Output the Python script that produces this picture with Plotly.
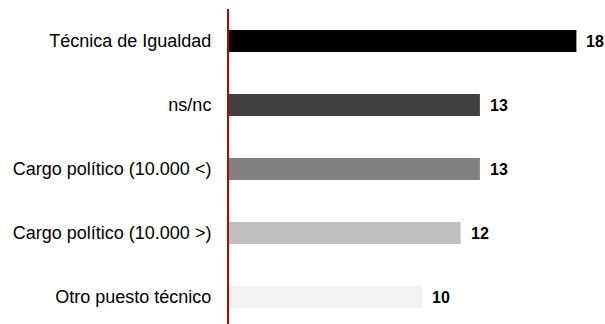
import plotly.graph_objects as go

categories = ["Técnica de Igualdad", "ns/nc", "Cargo político (10.000 <)",
              "Cargo político (10.000 >)", "Otro puesto técnico"]
values = [18, 13, 13, 12, 10]
colors = ["#000000", "#404040", "#808080", "#bfbfbf", "#f2f2f2"]

fig = go.Figure()
fig.add_trace(go.Bar(
    y=categories, x=values, orientation="h",
    marker=dict(color=colors, line=dict(width=0)),
    hoverinfo="skip", cliponaxis=False,
))

for c, v in zip(categories, values):
    fig.add_annotation(x=v, y=c, text=f"<b>{v}</b>", showarrow=False,
                       xanchor="left", xshift=8,
                       font=dict(family="Arial, Liberation Sans", size=16, color="#000000"))

W, H = 605, 324
ml, mr, mt, mb = 229, 5, 9, 0
pw = W - ml - mr
ph = H - mt - mb
fig.update_layout(
    width=W, height=H,
    margin=dict(l=ml, r=mr, t=mt, b=mb, pad=0),
    paper_bgcolor="white", plot_bgcolor="white",
    showlegend=False, bargap=0.656,
    font=dict(family="Arial, Liberation Sans", size=18, color="#000000"),
    xaxis=dict(range=[0, pw / 19.3], showgrid=False, zeroline=False,
               showticklabels=False, showline=False, fixedrange=True),
    yaxis=dict(type="category", categoryorder="array", categoryarray=categories,
               range=[-0.5 + ph / 64.0, -0.5], showgrid=False, zeroline=False,
               showline=True, linecolor="#c00000", linewidth=2,
               ticks="", ticklabelstandoff=12,
               tickfont=dict(family="Arial, Liberation Sans", size=18, color="#000000")),
)

fig.write_html("out.html")
